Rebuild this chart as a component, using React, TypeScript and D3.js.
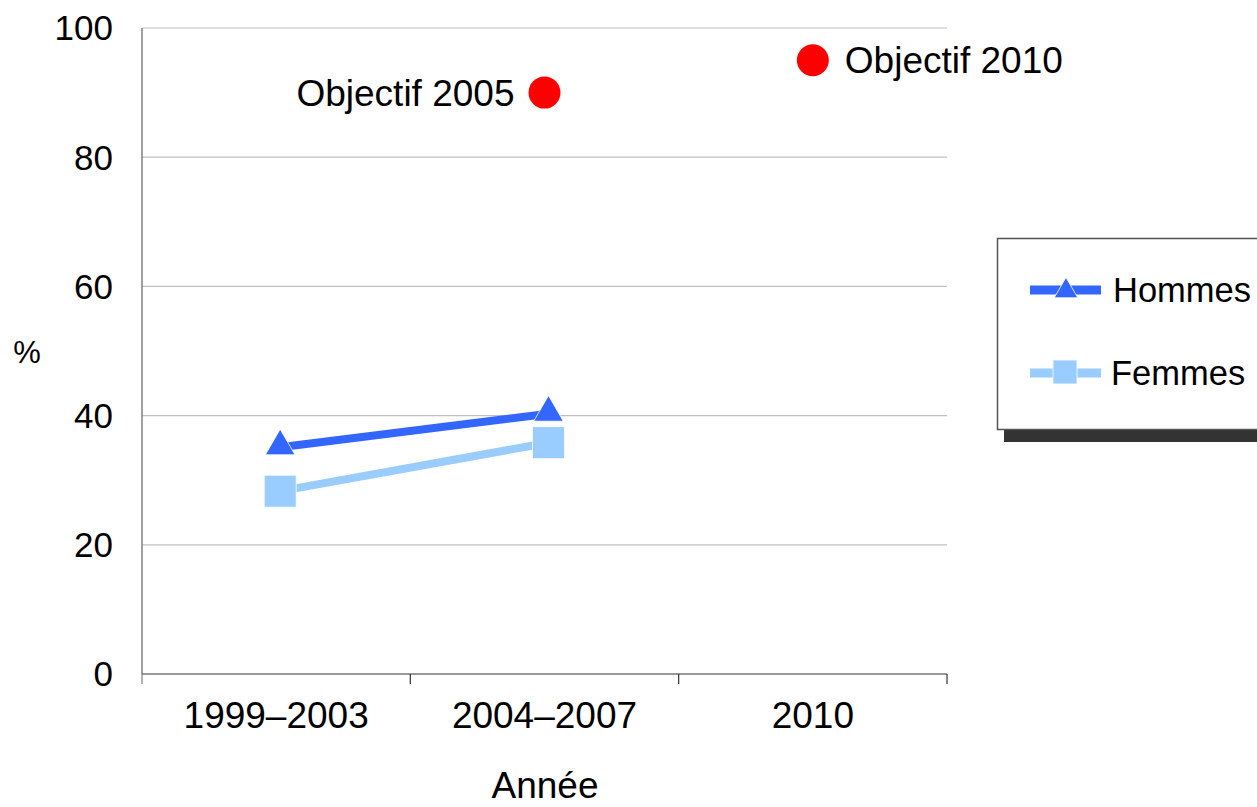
import React from "react";
import * as d3 from "d3";

const categories = ["1999–2003", "2004–2007", "2010"];
const yTicks = [0, 20, 40, 60, 80, 100];
const hommes = [
  { cat: "1999–2003", value: 35.1 },
  { cat: "2004–2007", value: 40.3 },
];
const femmes = [
  { cat: "1999–2003", value: 28.3 },
  { cat: "2004–2007", value: 35.8 },
];
const objectifs = [
  { cat: "2004–2007", value: 90, label: "Objectif 2005", side: "left" },
  { cat: "2010", value: 95, label: "Objectif 2010", side: "right" },
];

const FONT = "Liberation Sans, Arial, sans-serif";
const HOMMES_COLOR = "#3366FF";
const FEMMES_COLOR = "#99CCFF";

export default function App() {
  const x = d3.scaleBand<string>().domain(categories).range([142, 947]).padding(0);
  const y = d3.scaleLinear().domain([0, 100]).range([674, 28]);
  const cx = (c: string) => (x(c) as number) + x.bandwidth() / 2;
  const seriesOffset = 4;
  const line = d3
    .line<{ cat: string; value: number }>()
    .x((d) => cx(d.cat) + seriesOffset)
    .y((d) => y(d.value));

  const tri = d3.symbol().type(d3.symbolTriangle);
  const triPathBig = tri.size(380)();
  const triPathSmall = tri.size(240)();
  const bandEdges = categories.map((c) => x(c) as number).concat([947]);

  return (
    <svg width={1257} height={807} style={{ position: "absolute", left: 0, top: 0 }} fontFamily={FONT}>
      <rect width={1257} height={807} fill="#fff" />
      {yTicks.filter((t) => t > 0).map((t) => (
        <line key={t} x1={142} x2={947} y1={y(t)} y2={y(t)} stroke="#c0c0c0" strokeWidth={1.2} />
      ))}
      <line x1={142} x2={142} y1={y(100)} y2={y(0)} stroke="#808080" strokeWidth={1.5} />
      {yTicks.map((t) => (
        <text key={t} x={113} y={y(t)} dy="0.355em" textAnchor="end" fontSize={35} fill="#000">
          {t}
        </text>
      ))}
      <line x1={142} x2={947} y1={y(0)} y2={y(0)} stroke="#333" strokeWidth={1.2} />
      {bandEdges.map((e, i) => (
        <line key={i} x1={e} x2={e} y1={y(0)} y2={y(0) + 10} stroke={i === 0 ? "#808080" : "#333"} strokeWidth={1.2} />
      ))}
      {categories.map((c) => (
        <text key={c} x={cx(c)} y={728} textAnchor="middle" fontSize={37} fill="#000">
          {c}
        </text>
      ))}
      <text x={545} y={798} textAnchor="middle" fontSize={37} fill="#000">Année</text>
      <text x={27} y={363} textAnchor="middle" fontSize={31} fill="#000">%</text>

      <path d={line(femmes) as string} fill="none" stroke={FEMMES_COLOR} strokeWidth={8} />
      <path d={line(hommes) as string} fill="none" stroke={HOMMES_COLOR} strokeWidth={8} />
      {hommes.map((d) => (
        <path
          key={d.cat}
          d={triPathBig as string}
          transform={`translate(${cx(d.cat) + seriesOffset},${y(d.value) - 1})`}
          fill={HOMMES_COLOR}
          stroke="#fff"
          strokeWidth={0.8}
        />
      ))}
      {femmes.map((d) => (
        <rect
          key={d.cat}
          x={cx(d.cat) + seriesOffset - 16}
          y={y(d.value) - 16}
          width={32}
          height={32}
          fill={FEMMES_COLOR}
          stroke="#fff"
          strokeWidth={0.8}
        />
      ))}
      {objectifs.map((d) => (
        <g key={d.label}>
          <circle cx={cx(d.cat)} cy={y(d.value)} r={16} fill="#FF0000" />
          <text
            x={d.side === "left" ? cx(d.cat) - 30 : cx(d.cat) + 32}
            y={y(d.value)}
            dy="0.355em"
            textAnchor={d.side === "left" ? "end" : "start"}
            fontSize={37}
            fill="#000"
          >
            {d.label}
          </text>
        </g>
      ))}

      <rect x={1004} y={430} width={260} height={12} fill="#333" />
      <rect x={997.5} y={238.5} width={270} height={191} fill="#fff" stroke="#555" strokeWidth={1.5} />
      <line x1={1030} x2={1101} y1={290} y2={290} stroke={HOMMES_COLOR} strokeWidth={9} />
      <path d={triPathSmall as string} transform={`translate(1066,291)`} fill={HOMMES_COLOR} stroke="#fff" strokeWidth={0.8} />
      <text x={1113} y={290} dy="0.355em" fontSize={34.5} fill="#000">Hommes</text>
      <line x1={1030} x2={1101} y1={373} y2={373} stroke={FEMMES_COLOR} strokeWidth={9} />
      <rect x={1053} y={360} width={24} height={24} fill={FEMMES_COLOR} stroke="#fff" strokeWidth={0.8} />
      <text x={1111} y={373} dy="0.355em" fontSize={34.5} fill="#000">Femmes</text>
    </svg>
  );
}
